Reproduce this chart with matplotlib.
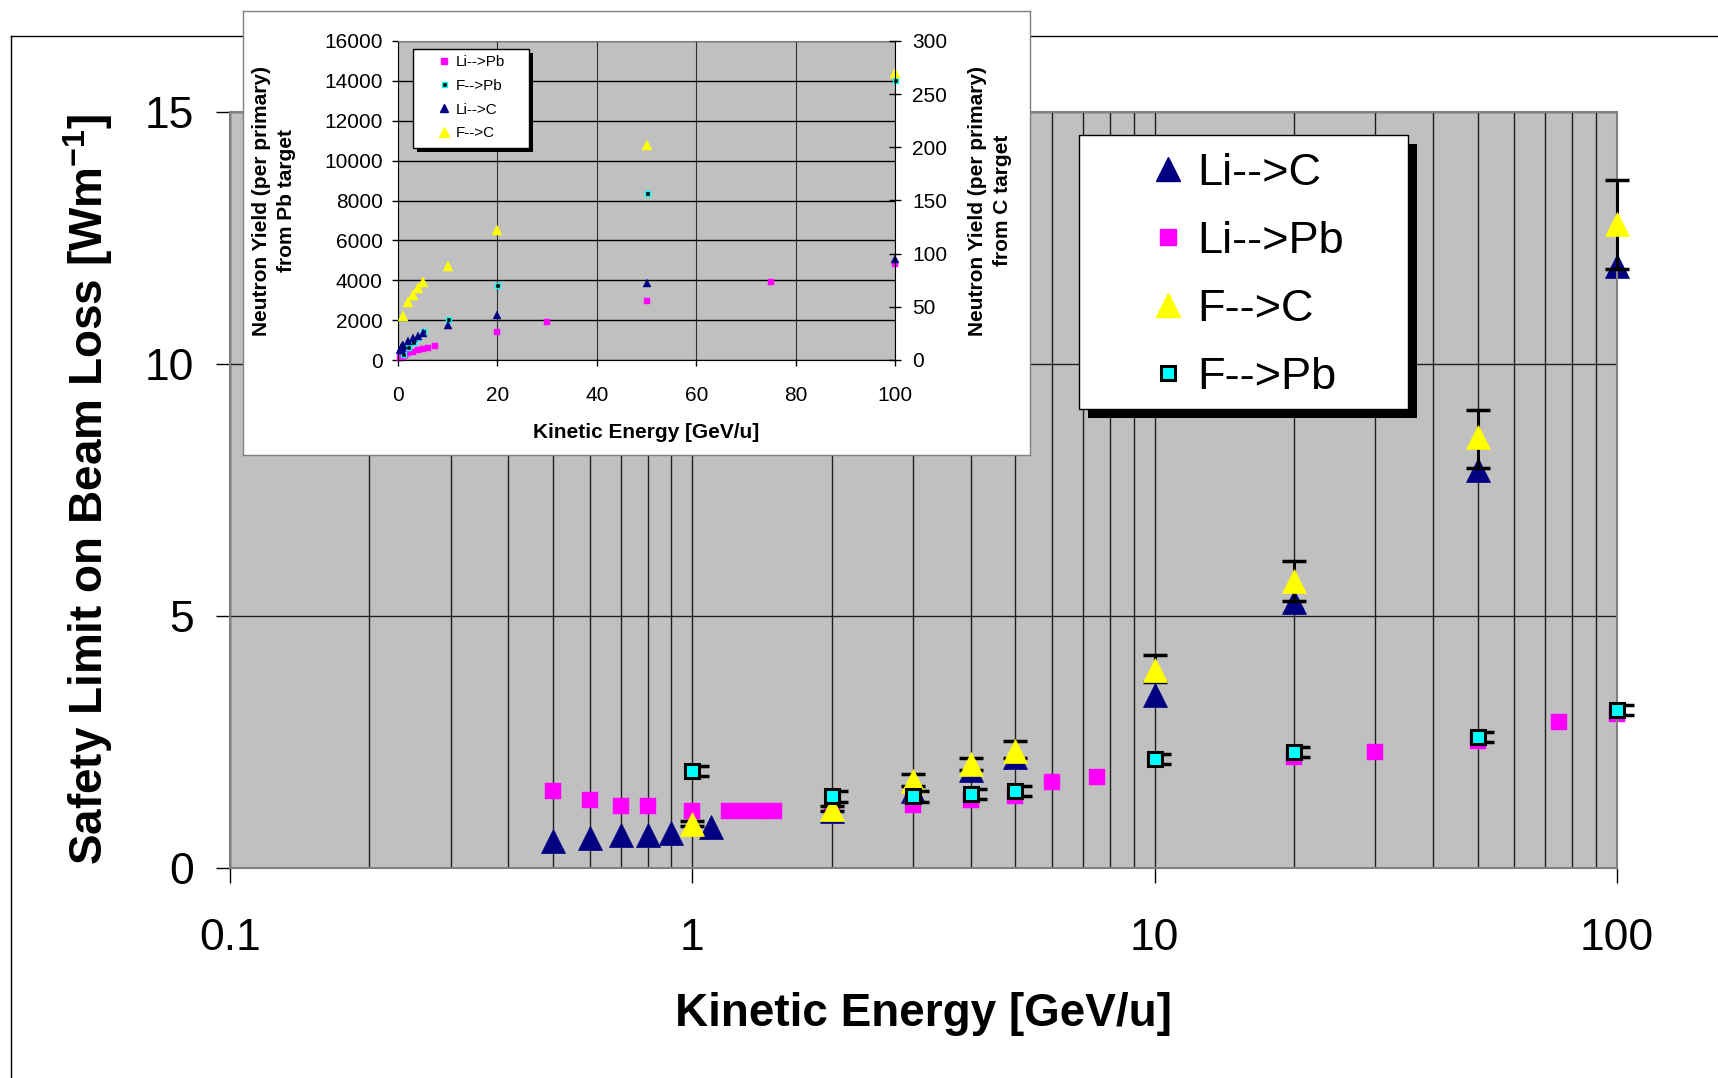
import matplotlib
matplotlib.use("Agg")
import matplotlib.pyplot as plt
from matplotlib.lines import Line2D
from matplotlib.patches import Rectangle
from matplotlib.ticker import LogLocator, NullFormatter
from matplotlib.transforms import ScaledTranslation

plt.rcParams["font.family"] = ["Liberation Sans", "DejaVu Sans"]
plt.rcParams["mathtext.fontset"] = "custom"
plt.rcParams["mathtext.rm"] = "Liberation Sans"
plt.rcParams["mathtext.bf"] = "Liberation Sans:bold"

# main chart: safety limit on beam loss [W/m] vs kinetic energy [GeV/u]
li_c_x = [0.5, 0.6, 0.7, 0.8, 0.9, 1.1, 2, 3, 4, 5, 10, 20, 50, 100]
li_c_y = [0.52, 0.58, 0.64, 0.64, 0.69, 0.80, 1.12, 1.52, 1.94, 2.2, 3.43, 5.28, 7.9, 11.95]

li_pb_x = [0.5, 0.6, 0.7, 0.8, 1.0, 1.2, 1.3, 1.4, 1.5, 2, 3, 4, 5, 6, 7.5, 20, 30, 50, 75, 100]
li_pb_y = [1.51, 1.35, 1.23, 1.23, 1.12, 1.12, 1.12, 1.12, 1.12, 1.08, 1.25, 1.35, 1.41,
           1.69, 1.80, 2.2, 2.30, 2.52, 2.88, 3.04]

f_c_x = [1, 2, 3, 4, 5, 10, 20, 50, 100]
f_c_y = [0.87, 1.17, 1.71, 2.06, 2.32, 3.92, 5.68, 8.54, 12.78]
f_c_err_lo = [0.05, 0.05, 0.1, 0.12, 0.14, 0.23, 0.38, 0.6, 0.9]
f_c_err_hi = [0.05, 0.05, 0.14, 0.12, 0.2, 0.3, 0.4, 0.55, 0.87]

f_pb_x = [1, 2, 3, 4, 5, 10, 20, 50, 100]
f_pb_y = [1.91, 1.41, 1.41, 1.46, 1.51, 2.15, 2.30, 2.59, 3.12]
f_pb_err = [0.1, 0.1, 0.1, 0.1, 0.1, 0.1, 0.1, 0.1, 0.1]

x_ticks = [0.1, 1, 10, 100]
x_tick_labels = ["0.1", "1", "10", "100"]
y_ticks = [0, 5, 10, 15]

# inset: neutron yield per primary (Pb target on left axis, C target on right axis)
in_li_pb_x = li_pb_x
in_li_pb_y = [90, 110, 130, 150, 180, 210, 230, 250, 270, 330, 420, 500, 560, 590, 680,
              1380, 1900, 2950, 3900, 4820]
in_f_pb_x = f_pb_x
in_f_pb_y = [280, 670, 900, 1150, 1450, 2050, 3780, 8380, 14030]
in_li_c_x = li_c_x
in_li_c_y = [9, 10, 11, 12, 13, 14, 18, 21, 23, 25, 33, 42, 72, 95]
in_f_c_x = f_c_x
in_f_c_y = [41, 55, 61, 68, 73, 88, 122, 202, 270]

in_x_ticks = [0, 20, 40, 60, 80, 100]
in_left_ticks = [0, 2000, 4000, 6000, 8000, 10000, 12000, 14000, 16000]
in_right_ticks = [0, 50, 100, 150, 200, 250, 300]

NAVY = "#000080"
MAGENTA = "#FF00FF"
YELLOW = "#FFFF00"
CYAN = "#00FFFF"

W, H = 1718, 1078


def fig_rect(x0, y0, x1, y1):
    # pixel box (top-left origin) -> figure fraction rect
    return [x0 / W, 1 - y1 / H, (x1 - x0) / W, (y1 - y0) / H]


def box_with_shadow(ax, x0, y0, x1, y1, dx, dy, lw=1):
    # legend box drawn in axes fraction coords, with black drop shadow
    ax.add_patch(Rectangle((x0 + dx, y0 - dy), x1 - x0, y1 - y0, transform=ax.transAxes,
                           facecolor="black", edgecolor="black", lw=0, zorder=8, clip_on=False))
    ax.add_patch(Rectangle((x0, y0), x1 - x0, y1 - y0, transform=ax.transAxes,
                           facecolor="white", edgecolor="black", lw=lw, zorder=9, clip_on=False))


def main_plot(fig):
    ax = fig.add_axes(fig_rect(230, 112, 1617, 867.5))
    ax.set_facecolor("#C0C0C0")
    ax.set_xscale("log")
    ax.set_xlim(0.1, 100)
    ax.set_ylim(0, 15)
    ax.set_axisbelow(True)

    ax.plot(li_c_x, li_c_y, ls="none", marker="^", ms=17.5, color=NAVY, mec=NAVY, mew=0.5,
            zorder=2.4, clip_on=False)
    ax.plot(li_pb_x, li_pb_y, ls="none", marker="s", ms=12, color=MAGENTA, mec=MAGENTA, mew=0.3,
            zorder=2.5, clip_on=False)
    eb = ax.errorbar(f_c_x, f_c_y, yerr=[f_c_err_lo, f_c_err_hi], fmt="none", ecolor="black",
                     elinewidth=2.2, capsize=8.5, capthick=2.5, zorder=2.6)
    ax.plot(f_c_x, f_c_y, ls="none", marker="^", ms=17.5, color=YELLOW, mec=YELLOW, mew=0.5,
            zorder=2.7, clip_on=False)
    shift = ax.transData + ScaledTranslation(4 / 72, 0, fig.dpi_scale_trans)
    eb2 = ax.errorbar(f_pb_x, f_pb_y, yerr=f_pb_err, fmt="none", ecolor="black", elinewidth=2,
                      capsize=8, capthick=2.5, zorder=2.8, transform=shift)
    ax.plot(f_pb_x, f_pb_y, ls="none", marker="s", ms=10, color=CYAN, mec="black", mew=2.2,
            zorder=2.9, clip_on=False)
    for container in (eb, eb2):
        for art in container.get_children():
            art.set_clip_on(False)

    ax.set_xticks(x_ticks, x_tick_labels)
    ax.xaxis.set_minor_locator(LogLocator(base=10, subs=range(2, 10)))
    ax.xaxis.set_minor_formatter(NullFormatter())
    ax.set_yticks(y_ticks, [str(v) for v in y_ticks])
    ax.tick_params(axis="x", which="major", direction="out", length=11, width=1,
                   labelsize=32, pad=25, color="black")
    ax.tick_params(axis="y", direction="out", length=10, width=1, labelsize=32, pad=16, color="black")
    ax.tick_params(axis="x", which="minor", length=0)
    ax.grid(axis="x", which="both", color="#202020", lw=1)
    ax.grid(axis="y", which="major", color="#202020", lw=1)
    for s in ax.spines.values():
        s.set_color("#808080")
        s.set_linewidth(1.5)

    ax.set_xlabel("Kinetic Energy [GeV/u]", fontsize=33, fontweight="bold", va="center")
    ax.xaxis.set_label_coords(0.5, -0.1945)
    ax.set_ylabel(r"Safety Limit on Beam Loss [Wm$^{\mathbf{-1}}$]", fontsize=33,
                  fontweight="bold", va="center")
    ax.yaxis.set_label_coords(-0.1024, 0.5)

    # legend with hard drop shadow
    def ax_x(px):
        return (px - 230) / 1387

    def ax_y(py):
        return (867.5 - py) / 755.5

    box_with_shadow(ax, ax_x(1079), ax_y(409), ax_x(1408), ax_y(135), 8.5 / 1387, 8.5 / 755.5)
    handles = [
        Line2D([], [], ls="none", marker="^", ms=17, color=NAVY, mec=NAVY),
        Line2D([], [], ls="none", marker="s", ms=11, color=MAGENTA, mec=MAGENTA),
        Line2D([], [], ls="none", marker="^", ms=17, color=YELLOW, mec=YELLOW),
        Line2D([], [], ls="none", marker="s", ms=10, color=CYAN, mec="black", mew=2.2),
    ]
    leg = ax.legend(handles, ["Li-->C", "Li-->Pb", "F-->C", "F-->Pb"], loc="upper left",
                    bbox_to_anchor=(ax_x(1145), ax_y(153)), frameon=False, fontsize=32.5,
                    borderpad=0, borderaxespad=0, handlelength=1.0, handletextpad=0.15,
                    labelspacing=0.6)
    leg.set_zorder(10)
    return ax


def inset_plot(fig):
    frame = fig.add_axes(fig_rect(243, 11, 1030, 455))
    frame.set_zorder(10)
    frame.set_xticks([])
    frame.set_yticks([])
    for s in frame.spines.values():
        s.set_color("#808080")
        s.set_linewidth(1)

    ax = fig.add_axes(fig_rect(398, 41, 895, 360))
    ax.set_zorder(11)
    ax.set_facecolor("#C0C0C0")
    ax.set_axisbelow(True)
    ax.set_xlim(0, 100)
    ax.set_ylim(0, 16000)
    ax.set_xticks(in_x_ticks)
    ax.set_yticks(in_left_ticks)
    ax.grid(axis="y", color="black", lw=1)
    ax.grid(axis="x", color="#303030", lw=0.8)
    ax.tick_params(axis="x", direction="out", length=4, width=1, labelsize=15, pad=14.5)
    ax.tick_params(axis="y", direction="out", length=4, width=1, labelsize=15, pad=7)
    ax.spines["top"].set_color("#808080")
    ax.spines["right"].set_visible(False)
    ax.spines["left"].set_color("black")
    ax.spines["bottom"].set_color("black")

    ax.plot(in_li_pb_x, in_li_pb_y, ls="none", marker="s", ms=4.3, color=MAGENTA, mec=MAGENTA,
            mew=0.3, clip_on=False)
    ax.plot(in_f_pb_x, in_f_pb_y, ls="none", marker="s", ms=3.6, color="black", mec=CYAN, mew=1,
            clip_on=False)

    ax2 = ax.twinx()
    ax2.set_zorder(12)
    ax2.patch.set_visible(False)
    ax2.set_ylim(0, 300)
    ax2.set_yticks(in_right_ticks)
    ax2.tick_params(axis="y", direction="inout", length=9, width=1, labelsize=15, pad=8)
    for side in ["top", "left", "bottom"]:
        ax2.spines[side].set_visible(False)
    ax2.spines["right"].set_color("black")

    ax2.plot(in_li_c_x, in_li_c_y, ls="none", marker="^", ms=6, color=NAVY, mec=NAVY, mew=0.3,
             clip_on=False)
    ax2.plot(in_f_c_x, in_f_c_y, ls="none", marker="^", ms=6.5, color=YELLOW, mec=YELLOW, mew=0.3,
             clip_on=False)

    ax.set_xlabel("Kinetic Energy [GeV/u]", fontsize=15, fontweight="bold", va="center")
    ax.xaxis.set_label_coords(0.5, -0.228)
    ax.set_ylabel("Neutron Yield (per primary)\nfrom Pb target", fontsize=15,
                  fontweight="bold", va="center", multialignment="center", linespacing=1.4)
    ax.yaxis.set_label_coords(-0.2495, 0.5)
    ax2.set_ylabel("Neutron Yield (per primary)\nfrom C target", fontsize=15,
                   fontweight="bold", va="center", multialignment="center", linespacing=1.4)
    ax2.yaxis.set_label_coords(1.192, 0.5)

    def ax_x(px):
        return (px - 398) / 497

    def ax_y(py):
        return (360 - py) / 319

    box_with_shadow(ax2, ax_x(413), ax_y(148), ax_x(529), ax_y(49), 3.5 / 497, 3.8 / 319)
    handles = [
        Line2D([], [], ls="none", marker="s", ms=4.5, color=MAGENTA, mec=MAGENTA),
        Line2D([], [], ls="none", marker="s", ms=3.6, color="black", mec=CYAN, mew=1),
        Line2D([], [], ls="none", marker="^", ms=6, color=NAVY, mec=NAVY),
        Line2D([], [], ls="none", marker="^", ms=6.5, color=YELLOW, mec=YELLOW),
    ]
    leg = ax2.legend(handles, ["Li-->Pb", "F-->Pb", "Li-->C", "F-->C"], loc="upper left",
                     bbox_to_anchor=(ax_x(438), ax_y(55)), frameon=False, fontsize=11,
                     borderpad=0, borderaxespad=0, handlelength=0.8, handletextpad=0.35,
                     labelspacing=0.64)
    leg.set_zorder(10)


def main():
    fig = plt.figure(figsize=(W / 100, H / 100), dpi=100)
    # outer chart-area border (runs off the right and bottom edges)
    fig.add_artist(Line2D([11 / W, 11 / W], [0, 1 - 36 / H], color="black", lw=1,
                          transform=fig.transFigure, zorder=1))
    fig.add_artist(Line2D([11 / W, 1], [1 - 36 / H, 1 - 36 / H], color="black", lw=1,
                          transform=fig.transFigure, zorder=1))
    main_plot(fig)
    inset_plot(fig)
    fig.savefig("out.png", dpi=100)


if __name__ == "__main__":
    main()
